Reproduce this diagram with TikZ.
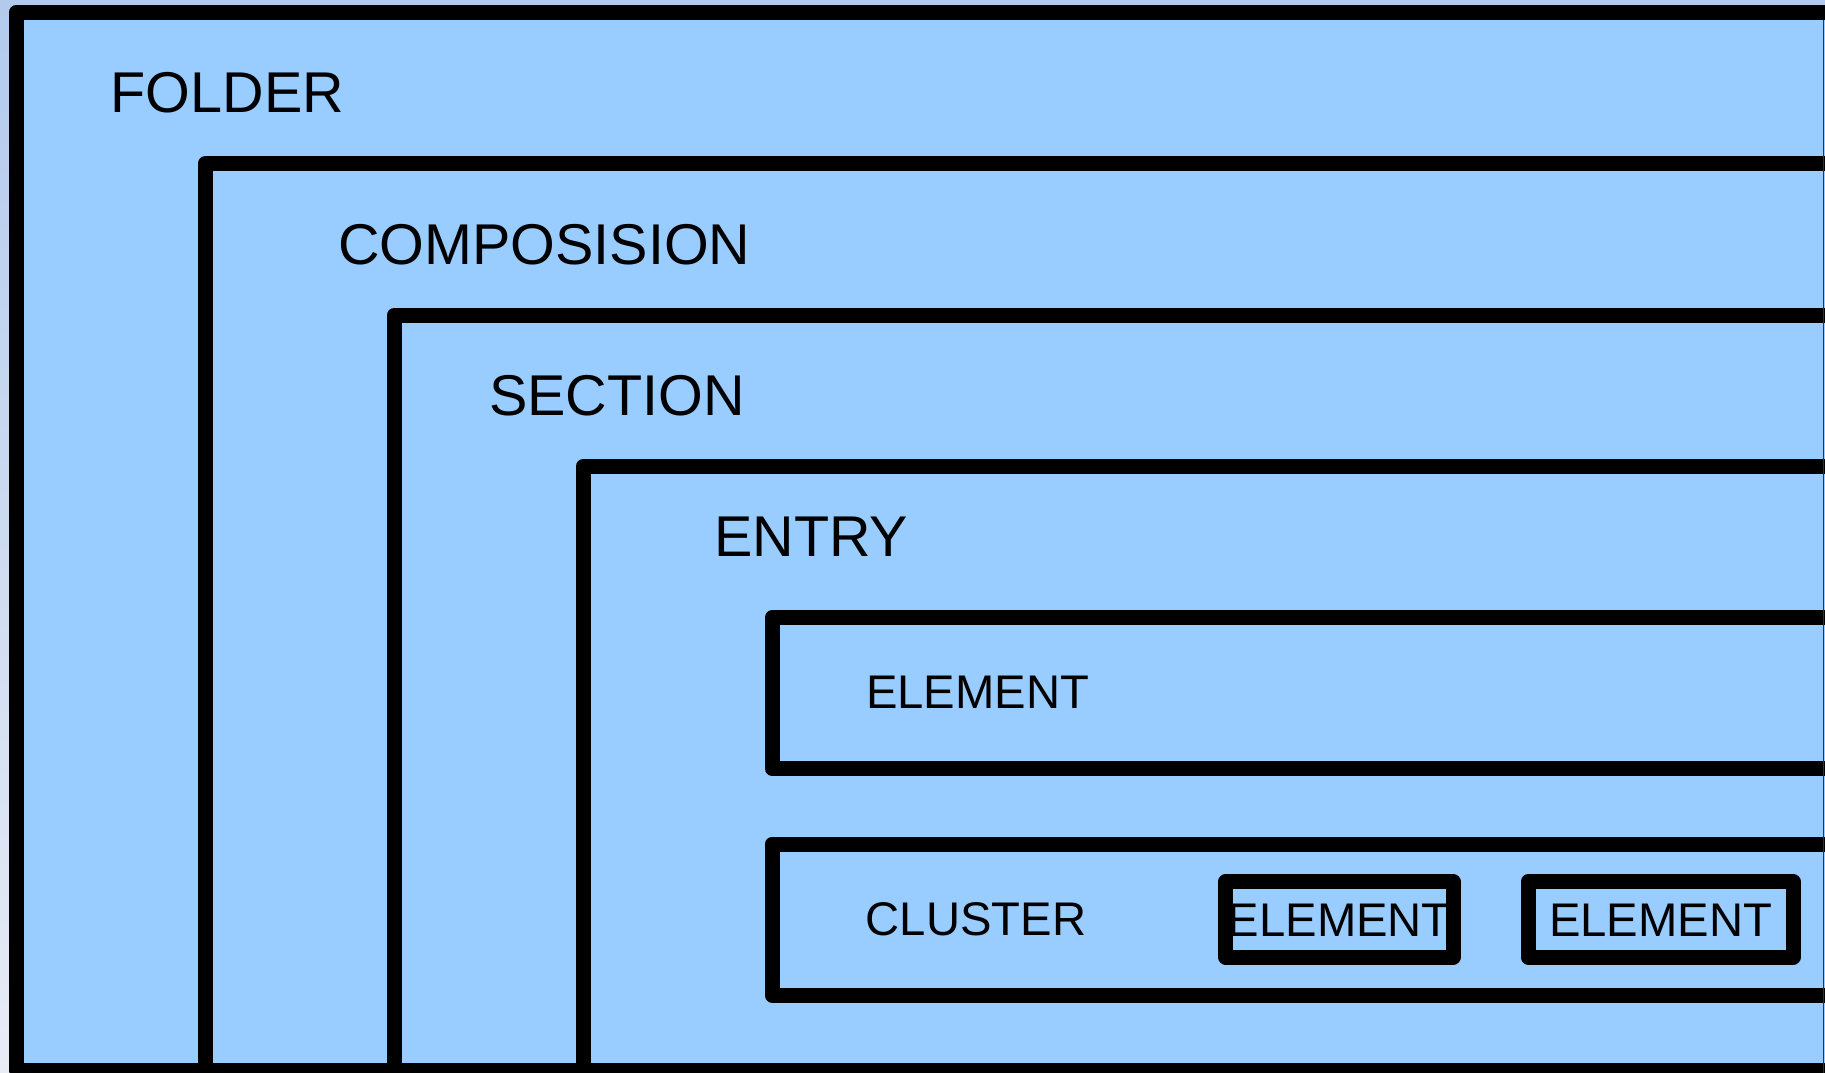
\documentclass[tikz,border=0pt]{standalone}
\usepackage{fontspec}
\setmainfont{Liberation Sans}
\definecolor{boxblue}{RGB}{153,204,255}
\definecolor{bgtop}{RGB}{178,202,236}
\definecolor{bgbot}{RGB}{232,236,245}
\begin{document}
\begin{tikzpicture}[x=1pt,y=-1pt,line join=round,
  boxline/.style={draw=black,line width=15pt,fill=boxblue},
  boxedge/.style={draw=black,line width=15pt},
  bigtext/.style={anchor=base west,inner sep=0pt,font=\fontsize{57.5}{62}\selectfont},
  smalltext/.style={anchor=base west,inner sep=0pt,font=\fontsize{47.2}{51}\selectfont},
  intext/.style={anchor=base,inner sep=0pt,font=\fontsize{47.2}{51}\selectfont}]
\useasboundingbox (0,0) rectangle (1825,1073);
\shade[top color=bgtop,bottom color=bgbot] (0,0) rectangle (1825,1073);
\clip (0,0) rectangle (1825,1073);
% nested boxes (extend beyond the picture on right and bottom)
\draw[boxline] (16,12.5) rectangle (1860,1070);
\draw[boxline] (205,163.8) rectangle (1860,1070);
\draw[boxline] (394,315.1) rectangle (1860,1070);
\draw[boxline] (583,466.4) rectangle (1860,1070);
\draw[boxline] (772,617.7) rectangle (1860,768.5);
\draw[boxline] (772,844) rectangle (1860,995);
% labels
\node[bigtext] (folder) at (110.5,112.7) {FOLDER};
\node[bigtext] (compos) at (338,264) {COMPOSISION};
\node[bigtext] (section) at (489,415) {SECTION};
\node[bigtext] (entry) at (714,556.7) {ENTRY};
\node[smalltext] (element) at (866,708.3) {ELEMENT};
\node[smalltext] (cluster) at (865.7,935) {CLUSTER};
% inner element boxes
\fill[boxblue] (1225.7,881.7) rectangle (1453,957);
\fill[boxblue] (1528,881.7) rectangle (1793,957);
\node[intext] (elemA) at (1339.3,936.7) {ELEMENT};
\node[intext] (elemB) at (1660.5,936.7) {ELEMENT};
\draw[boxedge] (1225.7,881.7) rectangle (1453,957);
\draw[boxedge] (1528,881.7) rectangle (1793,957);
% thin right edge
\draw[line width=1.5pt,black!80] (1823.5,20) -- (1823.5,1073);
\end{tikzpicture}
\end{document}
